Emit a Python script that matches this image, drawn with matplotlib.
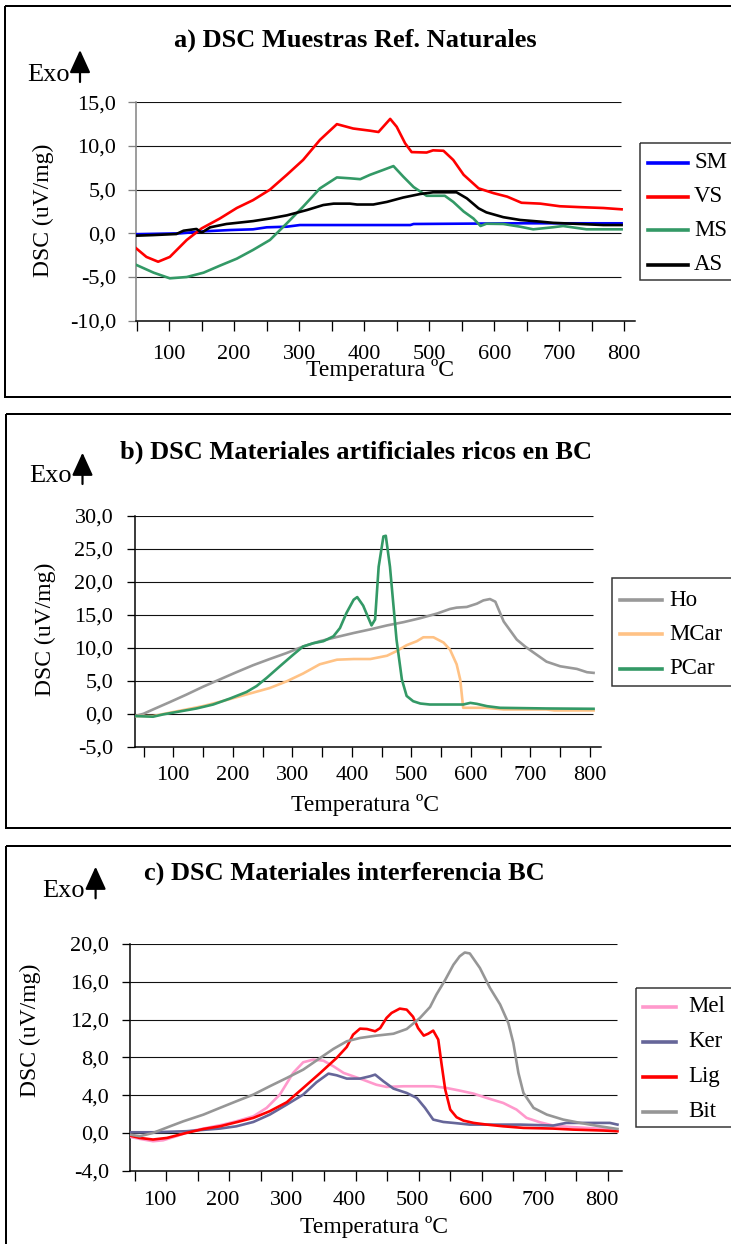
import matplotlib
matplotlib.use("Agg")
import matplotlib.pyplot as plt
import matplotlib.transforms as mtransforms
from matplotlib.patches import Rectangle, FancyArrowPatch
from matplotlib.lines import Line2D
from matplotlib.ticker import FixedLocator, FuncFormatter

plt.rcParams["font.family"] = ["Liberation Serif", "DejaVu Serif"]

# ---------------------------------------------------------------------------
# a) natural reference samples
# ---------------------------------------------------------------------------
SM_T = [49, 117, 153, 194, 229, 250, 281, 301, 471, 476, 640, 796]
SM = [-0.1, 0.0, 0.23, 0.38, 0.46, 0.69, 0.76, 0.95, 0.95, 1.07, 1.15, 1.15]

VS_T = [49, 65, 83, 101, 127, 150, 178, 204, 229, 255, 281, 306, 332, 358, 383,
        409, 422, 440, 450, 463, 473, 496, 506, 522, 537, 553, 576, 599, 620,
        642, 671, 701, 732, 768, 796]
VS = [-1.7, -2.7, -3.25, -2.7, -0.76, 0.57, 1.7, 2.9, 3.8, 5.0, 6.7, 8.4, 10.7,
      12.5, 12.0, 11.75, 11.6, 13.1, 12.2, 10.3, 9.3, 9.25, 9.5, 9.45, 8.4, 6.7,
      5.15, 4.6, 4.2, 3.5, 3.4, 3.1, 3.0, 2.9, 2.75]

MS_T = [49, 76, 101, 127, 153, 178, 204, 229, 255, 281, 306, 332, 358, 378, 394,
        409, 429, 445, 460, 476, 496, 524, 537, 553, 568, 579, 588, 614, 640,
        660, 691, 706, 742, 796]
MS = [-3.6, -4.5, -5.15, -5.0, -4.5, -3.7, -2.9, -1.9, -0.76, 1.15, 3.05, 5.15,
      6.4, 6.3, 6.2, 6.7, 7.25, 7.7, 6.5, 5.3, 4.3, 4.3, 3.6, 2.5, 1.7, 0.84,
      1.1, 1.07, 0.76, 0.46, 0.7, 0.84, 0.46, 0.46]

AS_T = [49, 75, 111, 122, 142, 150, 163, 188, 229, 255, 281, 312, 337, 353, 378,
        389, 414, 435, 460, 486, 506, 542, 558, 576, 588, 614, 640, 671, 691,
        732, 768, 796]
AS = [-0.27, -0.2, -0.08, 0.3, 0.5, 0.08, 0.69, 1.07, 1.4, 1.7, 2.06, 2.67, 3.24,
      3.4, 3.4, 3.3, 3.3, 3.6, 4.1, 4.5, 4.7, 4.7, 4.0, 2.86, 2.4, 1.85, 1.53,
      1.34, 1.2, 1.07, 0.95, 0.95]

# ---------------------------------------------------------------------------
# b) artificial BC-rich materials
# ---------------------------------------------------------------------------
HO_T = [36, 50, 66, 94, 122, 150, 178, 206, 234, 262, 290, 318, 346, 375, 403,
        431, 459, 487, 515, 543, 565, 576, 593, 610, 621, 632, 641, 655, 677,
        691, 705, 727, 750, 778, 795, 806]
HO = [-0.35, 0.0, 0.65, 1.76, 2.9, 4.1, 5.2, 6.3, 7.36, 8.3, 9.2, 10.2, 11.0,
      11.65, 12.25, 12.8, 13.4, 13.9, 14.5, 15.2, 15.9, 16.1, 16.2, 16.7, 17.2,
      17.4, 17.0, 14.0, 11.25, 10.2, 9.3, 7.9, 7.2, 6.8, 6.3, 6.2]

MCAR_T = [36, 66, 94, 122, 150, 178, 206, 234, 262, 290, 318, 346, 375, 403, 431,
          459, 475, 492, 509, 520, 537, 554, 565, 576, 582, 587, 604, 627, 655,
          727, 740, 806]
MCAR = [-0.35, -0.35, 0.15, 0.65, 1.16, 1.8, 2.5, 3.2, 3.9, 4.9, 6.1, 7.5, 8.2,
        8.3, 8.3, 8.8, 9.5, 10.4, 11.0, 11.6, 11.6, 10.8, 9.7, 7.5, 5.2, 0.9,
        0.9, 0.9, 0.65, 0.65, 0.5, 0.5]

PCAR_T = [36, 66, 83, 111, 139, 167, 195, 223, 240, 257, 279, 302, 318, 335, 352,
          369, 380, 391, 403, 409, 419, 433, 439, 445, 453, 457, 464, 475, 484,
          492, 503, 515, 531, 587, 599, 610, 627, 649, 727, 806]
PCAR = [-0.35, -0.45, -0.1, 0.35, 0.8, 1.4, 2.3, 3.3, 4.2, 5.45, 7.2, 9.0, 10.2,
        10.7, 11.0, 11.75, 13.0, 15.3, 17.3, 17.7, 16.4, 13.4, 14.3, 22.3, 26.9,
        27.0, 22.3, 11.25, 5.2, 2.7, 1.9, 1.55, 1.4, 1.4, 1.65, 1.5, 1.15, 0.9,
        0.8, 0.75]

# ---------------------------------------------------------------------------
# c) interfering materials
# ---------------------------------------------------------------------------
MEL_T = [52, 68, 89, 105, 126, 148, 174, 200, 221, 248, 269, 290, 311, 327, 343,
         359, 375, 391, 417, 443, 459, 486, 533, 554, 575, 597, 618, 644, 665,
         681, 702, 723, 750, 776, 824]
MEL = [-0.42, -0.63, -0.88, -0.78, -0.35, 0.18, 0.53, 0.88, 1.23, 1.76, 2.65,
       4.06, 6.35, 7.48, 7.76, 7.65, 7.05, 6.35, 5.75, 5.1, 4.87, 4.94, 4.94,
       4.76, 4.48, 4.16, 3.7, 3.17, 2.47, 1.59, 1.13, 0.78, 0.63, 0.53, 0.35]

KER_T = [52, 89, 142, 195, 221, 248, 274, 301, 327, 348, 367, 380, 396, 417, 433,
         441, 454, 470, 491, 507, 520, 533, 549, 565, 591, 671, 723, 744, 776,
         813, 825]
KER = [0.07, 0.07, 0.18, 0.46, 0.7, 1.16, 1.94, 3.0, 4.06, 5.36, 6.28, 6.1, 5.75,
       5.75, 6.0, 6.17, 5.47, 4.69, 4.23, 3.7, 2.65, 1.41, 1.16, 1.06, 0.88,
       0.88, 0.78, 1.06, 1.06, 1.06, 0.88]

LIG_T = [52, 68, 89, 111, 142, 169, 195, 221, 248, 274, 301, 327, 354, 380, 396,
         406, 417, 428, 441, 449, 459, 467, 480, 491, 501, 509, 518, 525, 533,
         541, 546, 552, 560, 570, 581, 597, 618, 644, 676, 723, 755, 803, 825]
LIG = [-0.28, -0.53, -0.7, -0.53, 0.0, 0.42, 0.7, 1.13, 1.59, 2.3, 3.25, 4.76,
       6.35, 7.94, 9.1, 10.4, 11.04, 11.0, 10.76, 11.1, 12.17, 12.7, 13.16, 13.05,
       12.3, 11.1, 10.3, 10.5, 10.83, 9.88, 7.4, 4.6, 2.47, 1.66, 1.3, 1.06,
       0.88, 0.7, 0.53, 0.46, 0.35, 0.25, 0.18]

BIT_T = [52, 68, 89, 116, 137, 169, 195, 221, 248, 274, 301, 327, 354, 375, 396,
         417, 443, 470, 491, 512, 528, 538, 552, 565, 575, 583, 591, 607, 623,
         639, 652, 660, 668, 676, 692, 713, 739, 766, 797, 825]
BIT = [-0.18, -0.35, 0.0, 0.7, 1.23, 1.94, 2.65, 3.35, 4.06, 4.94, 5.82, 6.7,
       7.94, 8.9, 9.7, 10.05, 10.3, 10.5, 11.0, 12.17, 13.33, 14.64, 16.2, 17.8,
       18.7, 19.1, 19.0, 17.46, 15.34, 13.6, 11.64, 9.52, 6.35, 4.23, 2.65, 1.94,
       1.41, 1.06, 0.7, 0.42]

# ---------------------------------------------------------------------------
# figure in pixel units (origin top-left)
# ---------------------------------------------------------------------------
W, H = 731, 1244
fig = plt.figure(figsize=(W / 100, H / 100), dpi=100)
PX = mtransforms.Affine2D().scale(1 / W, -1 / H).translate(0, 1) + fig.transFigure
PT = 0.72  # points per pixel at 100 dpi

PANELS = [
    dict(
        title="a) DSC Muestras Ref. Naturales", title_xy=(355, 46.7),
        box=(5, 6, 745, 397),
        exo=(27, 81), arrow=(80, 82, 50),
        plot=(135.7, 102.3, 635, 320.7), xlim=(48.5, 816.6), ylim=(-10, 15),
        ystep=5, grid_end=795, left_spine="#808080",
        ticks=list(range(50, 801, 50)), minor=None,
        xpad=10.0, ypad=8.4,
        ylabel_xy=(43, 210), xlabel_xy=(380, 370),
        series=[("SM", SM_T, SM, "#0000FF"), ("VS", VS_T, VS, "#FF0000"),
                ("MS", MS_T, MS, "#339966"), ("AS", AS_T, AS, "#000000")],
        legend=dict(box=(640, 142.7, 280), rows=[162.7, 196.7, 230, 265],
                    handle=(648, 688), text_x=694),
    ),
    dict(
        title="b) DSC Materiales artificiales ricos en BC", title_xy=(356.5, 458.3),
        box=(6, 414, 745, 828),
        exo=(29, 482), arrow=(82.5, 484, 452.7),
        plot=(135, 516, 601, 746.7), xlim=(35.7, 818.5), ylim=(-5, 30),
        ystep=5, grid_end=805, left_spine="#000000",
        ticks=list(range(50, 801, 50)), minor=None,
        xpad=6.6, ypad=9.9,
        ylabel_xy=(45, 629), xlabel_xy=(364.7, 805),
        series=[("Ho", HO_T, HO, "#999999"), ("MCar", MCAR_T, MCAR, "#FFC285"),
                ("PCar", PCAR_T, PCAR, "#339966")],
        legend=dict(box=(612, 577.7, 686), rows=[600, 634, 669],
                    handle=(620, 662), text_x=669),
    ),
    dict(
        title="c) DSC Materiales interferencia BC", title_xy=(344.5, 880),
        box=(6, 846, 745, 1260),
        exo=(42, 896.7), arrow=(95.6, 898.3, 866.7),
        plot=(130, 944, 621.7, 1170.7), xlim=(52.5, 831.7), ylim=(-4, 20),
        ystep=4, grid_end=825, left_spine="#000000",
        ticks=list(range(100, 801, 100)), minor=list(range(60, 811, 50)),
        xpad=14.8, ypad=9.1,
        ylabel_xy=(30, 1030.7), xlabel_xy=(374, 1227),
        series=[("Mel", MEL_T, MEL, "#FF99CC"), ("Ker", KER_T, KER, "#666699"),
                ("Lig", LIG_T, LIG, "#FF0000"), ("Bit", BIT_T, BIT, "#969696")],
        legend=dict(box=(636, 988, 1126.7), rows=[1006.7, 1041.7, 1076.7, 1111.7],
                    handle=(643, 676), text_x=688),
    ),
]


def dec_comma(v, _pos=None):
    return f"{v:.1f}".replace(".", ",")


def hundreds(v, _pos=None):
    return f"{int(round(v))}" if round(v) % 100 == 0 else ""


for p in PANELS:
    # panel frame
    x0, y0, x1, y1 = p["box"]
    fig.add_artist(Rectangle((x0, y0), x1 - x0, y1 - y0, transform=PX,
                             fill=False, edgecolor="black", lw=2 * PT))

    left, top, right, bottom = p["plot"]
    ax = fig.add_axes([left / W, 1 - bottom / H, (right - left) / W, (bottom - top) / H])
    ax.set_xlim(*p["xlim"])
    ax.set_ylim(*p["ylim"])
    ax.patch.set_alpha(0)

    for side in ("top", "right"):
        ax.spines[side].set_visible(False)
    ax.spines["left"].set_color(p["left_spine"])
    ax.spines["left"].set_linewidth(1.5 * PT)
    ax.spines["bottom"].set_linewidth(1.5 * PT)

    ymin, ymax = p["ylim"]
    yticks = list(range(ymin, ymax + 1, p["ystep"]))
    ax.yaxis.set_major_locator(FixedLocator(yticks))
    ax.yaxis.set_major_formatter(FuncFormatter(dec_comma))
    ax.hlines(yticks[1:], p["xlim"][0], p["grid_end"], colors="#111111",
              lw=1.1 * PT, zorder=1)

    ax.xaxis.set_major_locator(FixedLocator(p["ticks"]))
    ax.xaxis.set_major_formatter(FuncFormatter(hundreds))
    if p["minor"] is None:
        ax.tick_params(axis="x", which="major", direction="out", length=10 * PT,
                       width=1.3 * PT, pad=p["xpad"], labelsize=16)
    else:
        ax.xaxis.set_minor_locator(FixedLocator(p["minor"]))
        ax.tick_params(axis="x", which="major", length=0, pad=p["xpad"], labelsize=16)
        ax.tick_params(axis="x", which="minor", direction="out", length=10 * PT,
                       width=1.3 * PT)
    ax.tick_params(axis="y", direction="out", length=8 * PT, width=1.3 * PT,
                   pad=p["ypad"], labelsize=16, color=p["left_spine"])

    for name, t, v, color in p["series"]:
        ax.plot(t, v, color=color, lw=1.9, zorder=3, label=name)

    ax.set_xlabel("Temperatura ºC", fontsize=17, va="center", ha="center")
    ax.xaxis.set_label_coords(*p["xlabel_xy"], transform=PX)
    ax.set_ylabel("DSC (uV/mg)", fontsize=17, va="center", ha="center")
    ax.yaxis.set_label_coords(*p["ylabel_xy"], transform=PX)

    fig.text(*p["title_xy"], p["title"], transform=PX, ha="center", va="baseline",
             fontsize=19, fontweight="bold")

    # "Exo" marker with upward arrow
    fig.text(*p["exo"], "Exo", transform=PX, ha="left", va="baseline", fontsize=19)
    ax_x, ay0, ay1 = p["arrow"]
    fig.add_artist(FancyArrowPatch((ax_x, ay0), (ax_x, ay1), transform=PX,
                                   arrowstyle="-|>,head_length=0.7,head_width=0.32",
                                   mutation_scale=20, lw=2.2 * PT, color="black",
                                   shrinkA=0, shrinkB=0))

    # legend box, drawn in pixel space so it runs off the right edge
    lg = p["legend"]
    lx, ltop, lbot = lg["box"]
    fig.add_artist(Rectangle((lx, ltop), 120, lbot - ltop, transform=PX,
                             fill=False, edgecolor="#333333", lw=1.5 * PT))
    for (name, _t, _v, color), ry in zip(p["series"], lg["rows"]):
        fig.add_artist(Line2D(list(lg["handle"]), [ry, ry], transform=PX,
                              color=color, lw=2.6))
        fig.text(lg["text_x"], ry, name, transform=PX, ha="left", va="center",
                 fontsize=16.5)

fig.savefig("out.png", dpi=100)
